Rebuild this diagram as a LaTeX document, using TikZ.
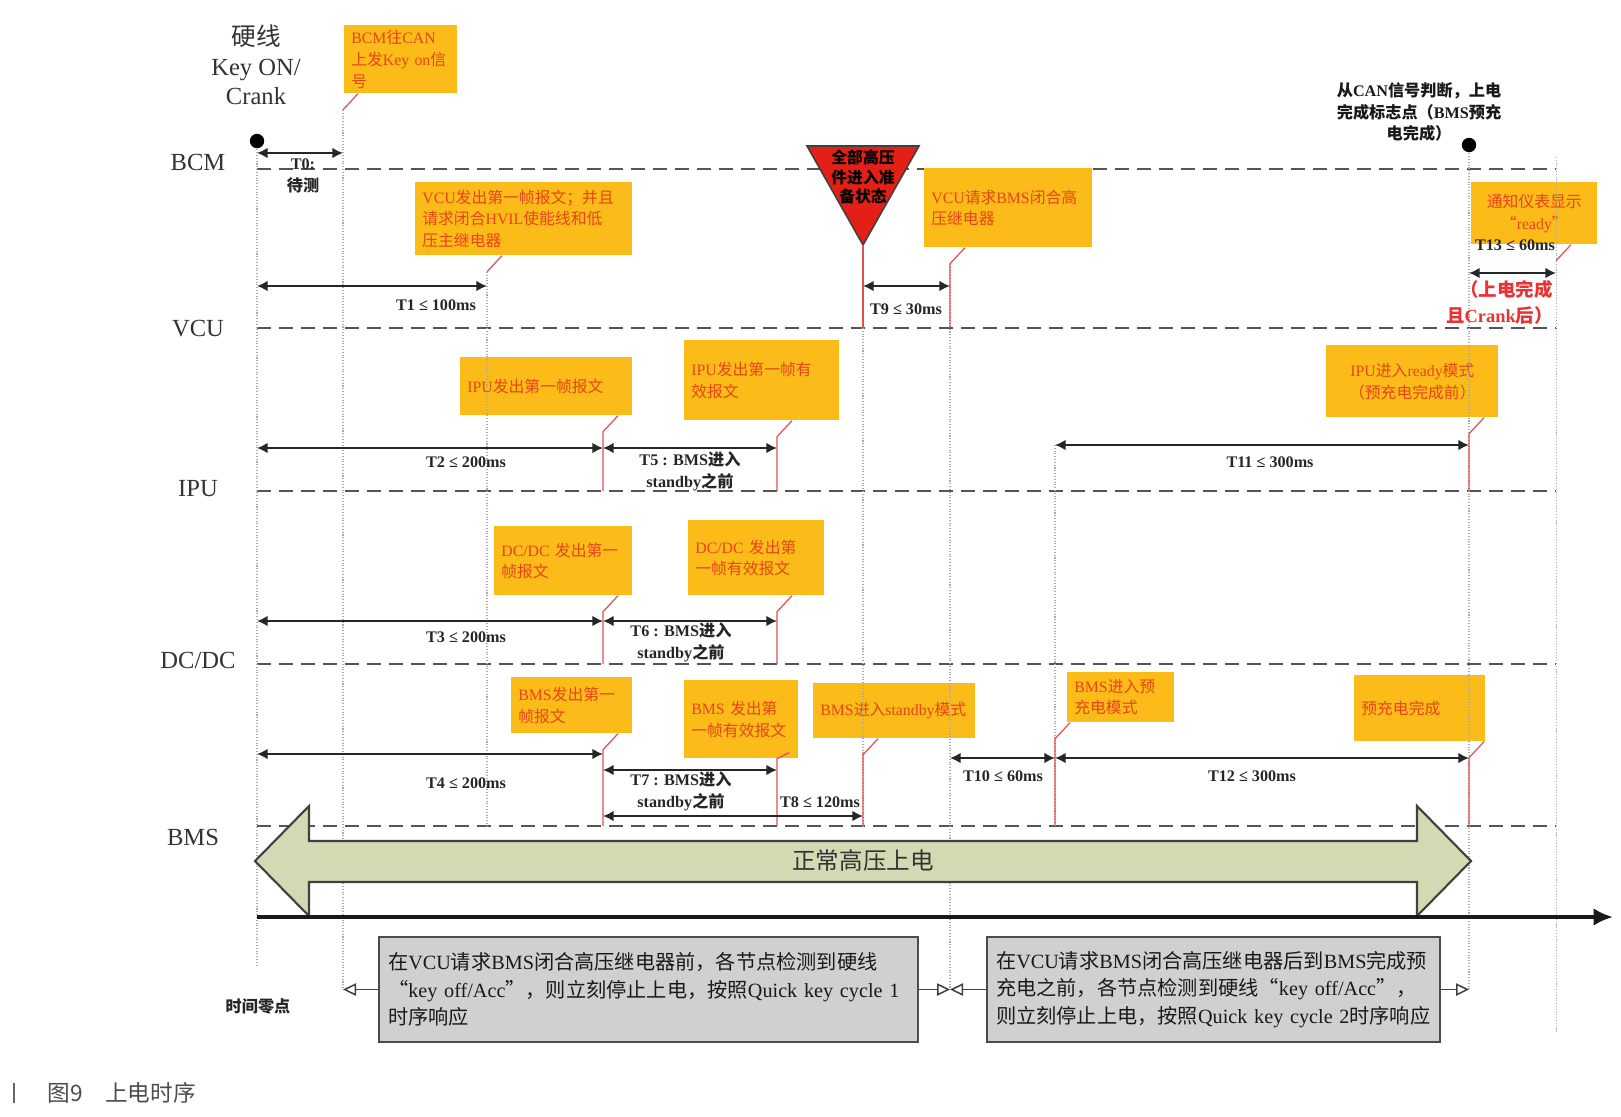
\documentclass[tikz,border=0pt]{standalone}
\usepackage{fontspec}
\setmainfont{Liberation Serif}
\newfontfamily\cjk{Noto Sans CJK SC}
\usetikzlibrary{arrows.meta}

\XeTeXinterchartokenstate=1
\newXeTeXintercharclass\hanzi
\newcount\hzcount
\newcommand\sethanzi[2]{\hzcount=#1\relax
  \loop\XeTeXcharclass\hzcount=\hanzi\relax
    \advance\hzcount by 1\relax
  \ifnum\hzcount<#2\relax\repeat}
\sethanzi{"4E00}{"A000}
\sethanzi{"3000}{"3040}
\sethanzi{"FF01}{"FF5F}
\XeTeXcharclass"201C=\hanzi\relax
\XeTeXcharclass"201D=\hanzi\relax
\XeTeXinterchartoks 0 \hanzi = {\cjk}
\XeTeXinterchartoks 4095 \hanzi = {\cjk}
\XeTeXinterchartoks \hanzi 0 = {\rmfamily}
\XeTeXinterchartoks 4095 0 = {\rmfamily}

\definecolor{boxorange}{RGB}{251,187,24}
\definecolor{boxtext}{RGB}{232,68,24}
\definecolor{trired}{RGB}{228,32,22}
\definecolor{lanegray}{RGB}{85,85,85}
\definecolor{hvgreen}{RGB}{210,218,180}
\definecolor{notegray}{RGB}{208,208,208}
\definecolor{pinred}{RGB}{226,80,80}
\definecolor{guidegray}{RGB}{170,170,170}
\definecolor{inkgray}{RGB}{51,51,51}
\definecolor{notered}{RGB}{235,50,50}

\newcommand\pin[2]{\draw[pinline] (#1.south -| #2) ++(15,0) -- ++(-15,16);}
\newcommand\pindown[3]{\draw[pinline] (#1.south -| #2) ++(15,0) -- ++(-15,16) -- (#2 |- #3);}

\tikzset{
  lane/.style={font=\fontsize{14}{17}\selectfont, text=inkgray},
  laneline/.style={draw=lanegray, line width=1.3pt, dash pattern=on 0.28cm off 0.16cm},
  ebox/.style={fill=boxorange, text=boxtext, anchor=north west, inner xsep=0.14cm, inner ysep=0pt,
    align=left, font=\fontsize{9}{12.3}\selectfont},
  guide/.style={draw=guidegray, line width=0.6pt, densely dotted},
  pinline/.style={draw=pinred, line width=0.7pt},
  tspan/.style={>={Latex[length=6pt,width=6pt]}, <->, draw=black!85, line width=1.1pt},
  tlabel/.style={font=\bfseries\fontsize{9.2}{12.5}\selectfont, text=black!85, align=center, inner sep=0pt},
  dot/.style={circle, fill=black, inner sep=0pt, minimum size=8.2pt},
  hvtri/.style={fill=trired, draw=black!75, line width=0.9pt},
  bigarrow/.style={fill=hvgreen, draw=black!75, line width=1.2pt},
  timeaxis/.style={-{Latex[length=11pt,width=10pt]}, line width=2.2pt, draw=black!90},
  gbox/.style={fill=notegray, draw=black!70, line width=1.1pt, align=left, inner xsep=0.18cm,
    font=\fontsize{11.5}{15.5}\selectfont, text=black!90},
  hollow/.style={-{Triangle[open,length=7.4pt,width=7pt]}, draw=black!75, line width=0.85pt}
}

\begin{document}
\begin{tikzpicture}[x=0.02cm, y=-0.02cm]
  \useasboundingbox (0,0) rectangle (1621,1116);

  \foreach \i/\x in {0/257,1/343,2/487,3/603,4/777,5/863,6/950,7/1055,8/1469,9/1556}
    \coordinate (c\i) at (\x,0);
  \foreach \nm/\y in {bcm/169,vcu/328,ipu/491,dcdc/664,bms/826}
    \coordinate (L\nm) at (0,\y);
  \foreach \nm in {bcm,vcu,ipu,dcdc,bms}
    \draw[laneline] (c0 |- L\nm) -- (c9 |- L\nm);

  \node[lane] (bcm) at (198,162) {BCM};
  \node[lane] (vcu) at (198,329) {VCU};
  \node[lane] (ipu) at (198,489) {IPU};
  \node[lane] (dcdc) at (198,660) {DC/DC};
  \node[lane] (bms) at (193,837) {BMS};
  \node[lane, font=\fontsize{14}{16.7}\selectfont, align=center] (hw) at (256,65) {硬线\\Key ON/\\Crank};

  \node[ebox, minimum width=2.26cm, minimum height=1.36cm, text width=1.98cm] (bcmbox) at (344,25) {BCM往CAN\\上发Key~on信\\号};
  \node[ebox, minimum width=4.34cm, minimum height=1.46cm, text width=4.06cm] (vcubox1) at (415,182) {VCU发出第一帧报文；并且\\请求闭合HVIL使能线和低\\压主继电器};
  \node[ebox, minimum width=3.36cm, minimum height=1.58cm, text width=3.08cm] (vcubox2) at (924,168) {VCU请求BMS闭合高\\压继电器};
  \node[ebox, minimum width=2.52cm, minimum height=1.24cm, text width=2.24cm, align=center] (notebox) at (1471,182) {通知仪表显示\\“ready”};
  \node[ebox, minimum width=3.44cm, minimum height=1.16cm, text width=3.16cm] (ipubox1) at (460,357) {IPU发出第一帧报文};
  \node[ebox, minimum width=3.10cm, minimum height=1.60cm, text width=2.82cm] (ipubox2) at (684,340) {IPU发出第一帧有\\效报文};
  \node[ebox, minimum width=3.44cm, minimum height=1.44cm, text width=3.16cm, align=center] (ipubox3) at (1326,345) {IPU进入ready模式\\（预充电完成前）};
  \node[ebox, minimum width=2.76cm, minimum height=1.38cm, text width=2.48cm] (dcbox1) at (494,526) {DC/DC~发出第一\\帧报文};
  \node[ebox, minimum width=2.72cm, minimum height=1.50cm, text width=2.44cm] (dcbox2) at (688,520) {DC/DC~发出第\\一帧有效报文};
  \node[ebox, minimum width=2.42cm, minimum height=1.12cm, text width=2.14cm] (bmsbox1) at (511,677) {BMS发出第一\\帧报文};
  \node[ebox, minimum width=2.28cm, minimum height=1.56cm, text width=2.00cm] (bmsbox2) at (684,680) {BMS~发出第\\一帧有效报文};
  \node[ebox, minimum width=3.24cm, minimum height=1.10cm, text width=2.96cm] (bmsbox3) at (813,683) {BMS进入standby模式};
  \node[ebox, minimum width=2.14cm, minimum height=1.00cm, text width=1.86cm] (bmsbox4) at (1067,672) {BMS进入预\\充电模式};
  \node[ebox, minimum width=2.62cm, minimum height=1.32cm, text width=2.34cm] (bmsbox5) at (1354,675) {预充电完成};

  \coordinate (tritip) at (c5 |- 0,245);
  \draw[hvtri] (807,146) -- (919,146) -- (tritip) -- cycle;
  \node[font=\bfseries\fontsize{9}{11.3}\selectfont, align=center] (hvready) at (863,177) {全部高压\\件进入准\\备状态};

  \foreach \i/\ya/\yb in {0/141/967,1/110/989,2/272/826,5/328/826,6/264/989,7/445/826,8/145/989,9/157/1034}
    \draw[guide] (c\i |- 0,\ya) -- (c\i |- 0,\yb);

  \pin{bcmbox}{c1}
  \pin{vcubox1}{c2}
  \pindown{vcubox2}{c6}{Lvcu}
  \pin{notebox}{c9}
  \pindown{ipubox1}{c3}{Lipu}
  \pindown{ipubox2}{c4}{Lipu}
  \pindown{ipubox3}{c8}{Lipu}
  \pindown{dcbox1}{c3}{Ldcdc}
  \pindown{dcbox2}{c4}{Ldcdc}
  \pindown{bmsbox1}{c3}{Lbms}
  \draw[pinline] (bmsbox2.south -| c4) ++(12,-6) -- ++(-12,6) -- (c4 |- Lbms);
  \pindown{bmsbox3}{c5}{Lbms}
  \pindown{bmsbox4}{c7}{Lbms}
  \pindown{bmsbox5}{c8}{Lbms}
  \draw[pinline] (tritip) -- (c5 |- Lvcu);

  \node[dot] (kon) at (c0 |- 0,141) {};
  \node[dot] (done) at (c8 |- 0,145) {};

  \foreach \a/\b/\y in {0/1/153,0/2/286,5/6/286,8/9/273,0/3/448,3/4/448,7/8/445,
                        0/3/621,3/4/621,0/3/754,3/4/770,3/5/816,6/7/758,7/8/758}
    \draw[tspan] (c\a |- 0,\y) -- (c\b |- 0,\y);

  \node[tlabel] (t0lab) at (303,176) {T0:\\待测};
  \node[tlabel] (t1lab) at (436,305) {T1 ≤ 100ms};
  \node[tlabel] (t9lab) at (906,309) {T9 ≤ 30ms};
  \node[tlabel] (t13lab) at (1515,245) {T13 ≤ 60ms};
  \node[tlabel] (t2lab) at (466,462) {T2 ≤ 200ms};
  \node[tlabel] (t5lab) at (690,471) {T5 : BMS进入\\standby之前};
  \node[tlabel] (t11lab) at (1270,462) {T11 ≤ 300ms};
  \node[tlabel] (t3lab) at (466,637) {T3 ≤ 200ms};
  \node[tlabel] (t6lab) at (681,642) {T6 : BMS进入\\standby之前};
  \node[tlabel] (t4lab) at (466,783) {T4 ≤ 200ms};
  \node[tlabel] (t7lab) at (681,791) {T7 : BMS进入\\standby之前};
  \node[tlabel] (t8lab) at (820,802) {T8 ≤ 120ms};
  \node[tlabel] (t10lab) at (1003,776) {T10 ≤ 60ms};
  \node[tlabel] (t12lab) at (1252,776) {T12 ≤ 300ms};

  \node[tlabel, font=\bfseries\fontsize{9.2}{12.3}\selectfont, text=black!90] (flag) at (1419,112) {从CAN信号判断，上电\\完成标志点（BMS预充\\电完成）};
  \node[tlabel, anchor=east, align=right, font=\bfseries\fontsize{10.5}{14.7}\selectfont, text=notered] (crank) at (1553,302) {（上电完成\\且Crank后）};

  \draw[bigarrow] (255,861) -- (309,806) -- (309,841) -- (1417,841) -- (1417,806) -- (1471,861)
    -- (1417,916) -- (1417,882) -- (309,882) -- (309,916) -- cycle;
  \node[font=\fontsize{13.4}{16}\selectfont, text=inkgray] (hvup) at (863,861) {正常高压上电};

  \coordinate (axend) at (1613,917);
  \draw[timeaxis] (c0 |- axend) -- (axend);

  \node[gbox, minimum width=10.78cm, minimum height=2.1cm, text width=10.42cm] (gbox1) at (648.5,989.5)
    {在VCU请求BMS闭合高压继电器前，各节点检测到硬线\\“key~off/Acc”，则立刻停止上电，按照Quick~key~cycle~1\\时序响应};
  \node[gbox, minimum width=9.06cm, minimum height=2.1cm, text width=8.70cm] (gbox2) at (1213.5,989.5)
    {在VCU请求BMS闭合高压继电器后到BMS完成预\\充电之前，各节点检测到硬线“key~off/Acc”，\\则立刻停止上电，按照Quick~key~cycle~2时序响应};
  \draw[hollow] (gbox1.west) -- (c1 |- gbox1.west);
  \draw[hollow] (gbox1.east) -- (c6 |- gbox1.east);
  \draw[hollow] (gbox2.west) -- (c6 |- gbox2.west);
  \draw[hollow] (gbox2.east) -- (c8 |- gbox2.east);

  \node[tlabel] (zero) at (258,1006) {时间零点};

  \draw[line width=1.4pt, black!60] (14,1083) -- (14,1103);
  \node[anchor=west, inner sep=0pt, text=black!70,
    font={\XeTeXinterchartokenstate=0 \cjk\fontsize{12.9}{15}\selectfont}] (cap) at (47,1093) {图9\quad 上电时序};
\end{tikzpicture}
\end{document}
